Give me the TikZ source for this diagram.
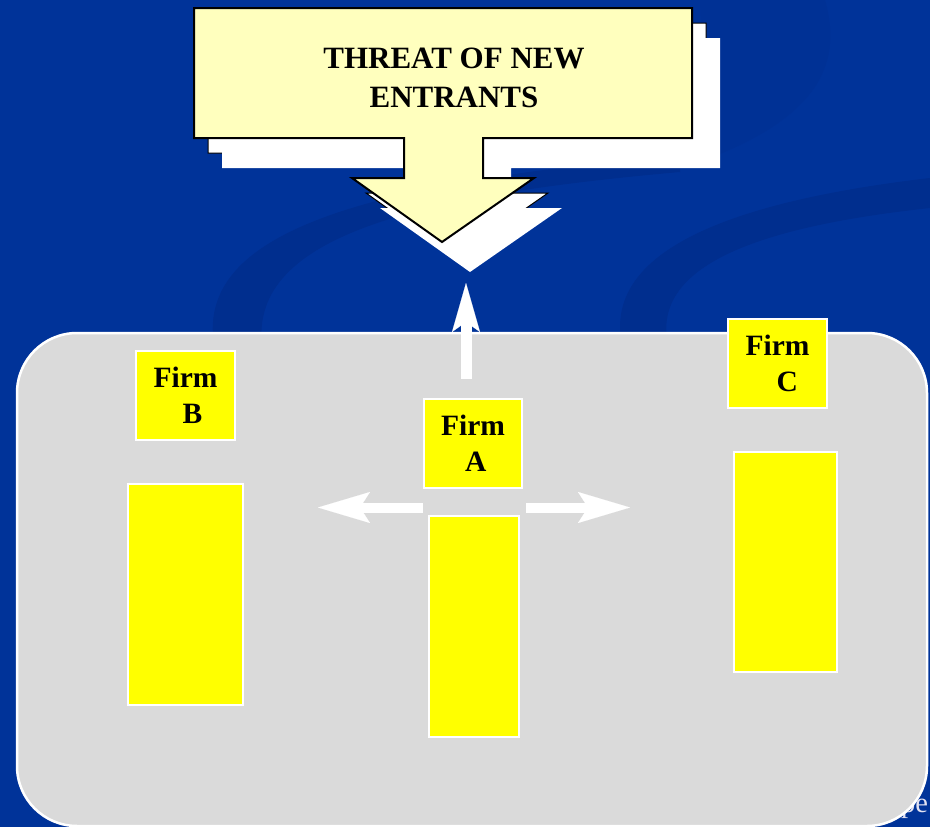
\documentclass[tikz,border=0pt]{standalone}
\usepackage{fontspec}
\setmainfont{Liberation Serif}
\usetikzlibrary{arrows.meta}

\definecolor{slidebg}{RGB}{0,51,153}
\definecolor{swirlband}{RGB}{0,46,142}
\definecolor{swirlfaint}{RGB}{0,49,149}
\definecolor{panelgray}{RGB}{218,218,218}
\definecolor{calloutfill}{RGB}{255,255,190}
\definecolor{firmyellow}{RGB}{255,255,0}
\definecolor{ghosttext}{RGB}{226,226,242}

% outline of the downward callout arrow
\def\calloutshape{(194,8) -- (692,8) -- (692,138) -- (483,138) -- (483,178)
  -- (534,178) -- (442,242) -- (352,178) -- (404,178) -- (404,138)
  -- (194,138) -- cycle}

\begin{document}
\begin{tikzpicture}[x=1pt,y=-1pt,
  firmbox/.style={draw=white, line width=2.5pt, fill=firmyellow,
    inner sep=0pt, outer sep=0pt, align=left,
    font=\fontsize{29.5pt}{36pt}\selectfont\bfseries},
  whitearrow/.style={draw=white, line width=#1},
  bighead/.style={-{Stealth[length=52pt, width=31pt, inset=10pt, line width=0.1pt]}},
  uphead/.style={-{Stealth[length=49pt, width=28pt, inset=10pt, line width=0.1pt]}}]

\useasboundingbox (0,0) rectangle (930,827);

% slide background with faint swirls
\fill[slidebg] (0,0) rectangle (930,827);
\fill[swirlfaint] (700,0) -- (825,0) .. controls (845,70) and (810,120) .. (705,160) -- cycle;
\fill[swirlband] (214,345) .. controls (200,255) and (300,200) .. (560,168)
  -- (680,162) -- (680,172)
  .. controls (420,195) and (250,235) .. (262,345) -- cycle;
\fill[swirlband] (622,345) .. controls (605,262) and (700,205) .. (930,178)
  -- (930,208) .. controls (745,228) and (652,270) .. (668,345) -- cycle;

% callout arrow with its two stacked shadows
\draw[fill=white, draw=black, line width=1pt, shift={(14,15)}] \calloutshape;
\fill[white, shift={(28,30)}] \calloutshape;
\draw[fill=calloutfill, draw=black, line width=2pt, line join=miter] \calloutshape;
\node[inner sep=0pt, align=center, font=\fontsize{31pt}{39pt}\selectfont\bfseries]
  (threat) at (454,78) {THREAT OF NEW\\ENTRANTS};

% text running off the slide edge
\node[anchor=base west, inner sep=0pt, text=ghosttext,
  font=\fontsize{28.5pt}{34pt}\selectfont] (edgetext) at (901,812) {pe};

% industry panel
\draw[fill=panelgray, draw=white, line width=2.5pt, rounded corners=60pt]
  (17,333) rectangle (927,826);

% firms
\node[firmbox, minimum width=99pt, minimum height=89pt] (firmB) at (185.5,395.5)
  {Firm\\\hspace*{29pt}B};
\node[firmbox, minimum width=115pt, minimum height=221pt] (barB) at (185.5,594.5) {};
\node[firmbox, minimum width=98pt, minimum height=89pt] (firmA) at (473,443.5)
  {Firm\\\hspace*{24pt}A};
\node[firmbox, minimum width=90pt, minimum height=221pt] (barA) at (474,626.5) {};
\node[firmbox, minimum width=99pt, minimum height=89pt] (firmC) at (777.5,363.5)
  {Firm\\\hspace*{31pt}C};
\node[firmbox, minimum width=103pt, minimum height=220pt] (barC) at (785.5,562) {};

% rivalry and entry arrows around firm A
\coordinate (upstart) at (466,379);
\coordinate (upend) at (466,283);
\coordinate (leftstart) at (423,507.5);
\coordinate (leftend) at (318,507.5);
\coordinate (rightstart) at (526,507.5);
\coordinate (rightend) at (630,507.5);
\draw[whitearrow=11pt, uphead] (upstart) -- (upend);
\draw[whitearrow=10pt, bighead] (leftstart) -- (leftend);
\draw[whitearrow=10pt, bighead] (rightstart) -- (rightend);

\end{tikzpicture}
\end{document}
